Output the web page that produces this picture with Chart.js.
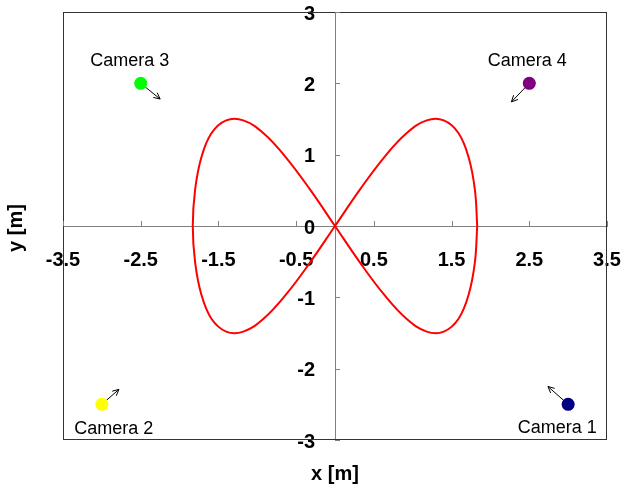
<!DOCTYPE html>
<html>
<head>
<meta charset="utf-8">
<script src="https://cdn.jsdelivr.net/npm/chart.js@4.4.1/dist/chart.umd.min.js"></script>
<style>
  html, body { margin: 0; padding: 0; background: #fff; }
  #wrap { width: 624px; height: 489px; position: relative; }
</style>
</head>
<body>
<div id="wrap"><canvas id="c"></canvas></div>
<script>
// ---- data ----
const xTicks = [-3.5, -2.5, -1.5, -0.5, 0.5, 1.5, 2.5, 3.5];
const yTicks = [-3, -2, -1, 0, 1, 2, 3];

const pathX = [1.83, 1.80, 1.72, 1.59, 1.40, 1.18, 0.92, 0.63, 0.32, 0.00,
               -0.32, -0.63, -0.92, -1.18, -1.40, -1.59, -1.72, -1.80, -1.83,
               -1.80, -1.72, -1.59, -1.40, -1.18, -0.92, -0.63, -0.32, 0.00,
               0.32, 0.63, 0.92, 1.18, 1.40, 1.59, 1.72, 1.80, 1.83];
const pathY = [0.00, 0.51, 0.96, 1.30, 1.48, 1.48, 1.30, 0.96, 0.51, 0.00,
               -0.51, -0.96, -1.30, -1.48, -1.48, -1.30, -0.96, -0.51, 0.00,
               0.51, 0.96, 1.30, 1.48, 1.48, 1.30, 0.96, 0.51, 0.00,
               -0.51, -0.96, -1.30, -1.48, -1.48, -1.30, -0.96, -0.51, 0.00];

const cameraNames = ['Camera 1', 'Camera 2', 'Camera 3', 'Camera 4'];
const cameraX = [3, -3, -2.5, 2.5];
const cameraY = [-2.5, -2.5, 2, 2];
const cameraColors = ['#000080', '#ffff00', '#00ff00', '#800080'];
// arrow tips (direction each camera looks at)
const arrowX = [2.74, -2.78, -2.25, 2.27];
const arrowY = [-2.25, -2.29, 1.78, 1.74];

const pathData = pathX.map((x, i) => ({x: x, y: pathY[i]}));
const camData = cameraX.map((x, i) => ({x: x, y: cameraY[i]}));

const FONT = "'Liberation Sans', Arial, sans-serif";

const decor = {
  id: 'decor',
  beforeDatasetsDraw(chart) {
    const {ctx, chartArea: a, scales: {x, y}} = chart;
    ctx.save();
    // frame
    ctx.strokeStyle = '#333';
    ctx.lineWidth = 1;
    ctx.strokeRect(a.left + 0.5, a.top + 0.5, a.right - a.left - 1, a.bottom - a.top - 1);
    // tick marks
    ctx.strokeStyle = '#808080';
    const y0 = y.getPixelForValue(0), x0 = x.getPixelForValue(0);
    ctx.beginPath();
    xTicks.forEach(v => {
      const px = Math.round(x.getPixelForValue(v)) + 0.5;
      ctx.moveTo(px, y0); ctx.lineTo(px, y0 - 5);
    });
    yTicks.forEach(v => {
      const py = Math.round(y.getPixelForValue(v)) + 0.5;
      ctx.moveTo(x0, py); ctx.lineTo(x0 + 5, py);
    });
    ctx.stroke();
    // axis titles
    ctx.fillStyle = '#000';
    ctx.font = "bold 20px " + FONT;
    ctx.textAlign = 'center';
    ctx.textBaseline = 'middle';
    ctx.fillText('x [m]', (a.left + a.right) / 2, 474);
    ctx.translate(16, 228);
    ctx.rotate(-Math.PI / 2);
    ctx.fillText('y [m]', 0, 0);
    ctx.restore();
  },
  afterDatasetsDraw(chart) {
    const {ctx, scales: {x, y}} = chart;
    ctx.save();
    // arrows
    ctx.strokeStyle = '#000';
    ctx.lineWidth = 1;
    cameraX.forEach((cx, i) => {
      const sx = x.getPixelForValue(cx), sy = y.getPixelForValue(cameraY[i]);
      const ex = x.getPixelForValue(arrowX[i]), ey = y.getPixelForValue(arrowY[i]);
      const ang = Math.atan2(ey - sy, ex - sx);
      const bx = sx + 6 * Math.cos(ang), by = sy + 6 * Math.sin(ang);
      ctx.beginPath();
      ctx.moveTo(bx, by); ctx.lineTo(ex, ey);
      ctx.moveTo(ex - 7 * Math.cos(ang - 0.45), ey - 7 * Math.sin(ang - 0.45));
      ctx.lineTo(ex, ey);
      ctx.lineTo(ex - 7 * Math.cos(ang + 0.45), ey - 7 * Math.sin(ang + 0.45));
      ctx.stroke();
    });
    // redraw dots on top of arrows
    cameraX.forEach((cx, i) => {
      ctx.beginPath();
      ctx.fillStyle = cameraColors[i];
      ctx.arc(x.getPixelForValue(cx), y.getPixelForValue(cameraY[i]), 6.5, 0, Math.PI * 2);
      ctx.fill();
    });
    // labels
    const offs = [[-11, 24], [12, 25], [-11, -22], [-2, -22]];
    ctx.fillStyle = '#000';
    ctx.font = "18px " + FONT;
    ctx.textAlign = 'center';
    ctx.textBaseline = 'middle';
    cameraNames.forEach((n, i) => {
      ctx.fillText(n, x.getPixelForValue(cameraX[i]) + offs[i][0], y.getPixelForValue(cameraY[i]) + offs[i][1]);
    });
    ctx.restore();
  }
};

const noPad = s => { s.paddingTop = 0; s.paddingBottom = 0; s.paddingLeft = 0; s.paddingRight = 0; };

// y labels: move them left of the centred axis (Chart.js ignores padding for object-positioned y axes)
const yFit = s => {
  noPad(s);
  if (!s.__shifted && typeof s._computeLabelItems === 'function') {
    const orig = s._computeLabelItems.bind(s);
    s._computeLabelItems = function (ca) {
      const items = orig(ca);
      items.forEach(it => {
        if (it.options && it.options.translation) it.options.translation[0] -= 20;
      });
      return items;
    };
    s.__shifted = true;
  }
};

new Chart(document.getElementById('c'), {
  type: 'scatter',
  data: {
    datasets: [
      {
        data: pathData,
        showLine: true,
        borderColor: '#ff0000',
        borderWidth: 2,
        pointRadius: 0,
        tension: 0.4,
        fill: false
      },
      {
        data: camData,
        pointRadius: 6,
        pointBackgroundColor: cameraColors,
        pointBorderWidth: 0,
        showLine: false
      }
    ]
  },
  options: {
    responsive: true,
    maintainAspectRatio: false,
    animation: false,
    devicePixelRatio: 1,
    layout: { padding: { left: 63, right: 17, top: 12, bottom: 49 } },
    plugins: { legend: { display: false }, tooltip: { enabled: false } },
    scales: {
      x: {
        type: 'linear',
        min: -3.5, max: 3.5,
        position: { y: 0 },
        afterBuildTicks: s => { s.ticks = xTicks.map(v => ({value: v})); },
        afterFit: noPad,
        grid: { display: false, drawTicks: false },
        border: { display: true, color: '#808080', width: 1 },
        ticks: {
          padding: 22,
          color: '#000',
          font: { family: FONT, size: 20, weight: 'bold' },
          maxRotation: 0,
          autoSkip: false,
          callback: v => String(v)
        }
      },
      y: {
        type: 'linear',
        min: -3, max: 3,
        position: { x: 0 },
        afterBuildTicks: s => { s.ticks = yTicks.map(v => ({value: v})); },
        afterFit: yFit,
        grid: { display: false, drawTicks: false },
        border: { display: true, color: '#808080', width: 1 },
        ticks: {
          padding: 0,
          labelOffset: 2,
          color: '#000',
          font: { family: FONT, size: 20, weight: 'bold' },
          autoSkip: false,
          callback: v => String(v)
        }
      }
    }
  },
  plugins: [decor]
});
</script>
</body>
</html>
